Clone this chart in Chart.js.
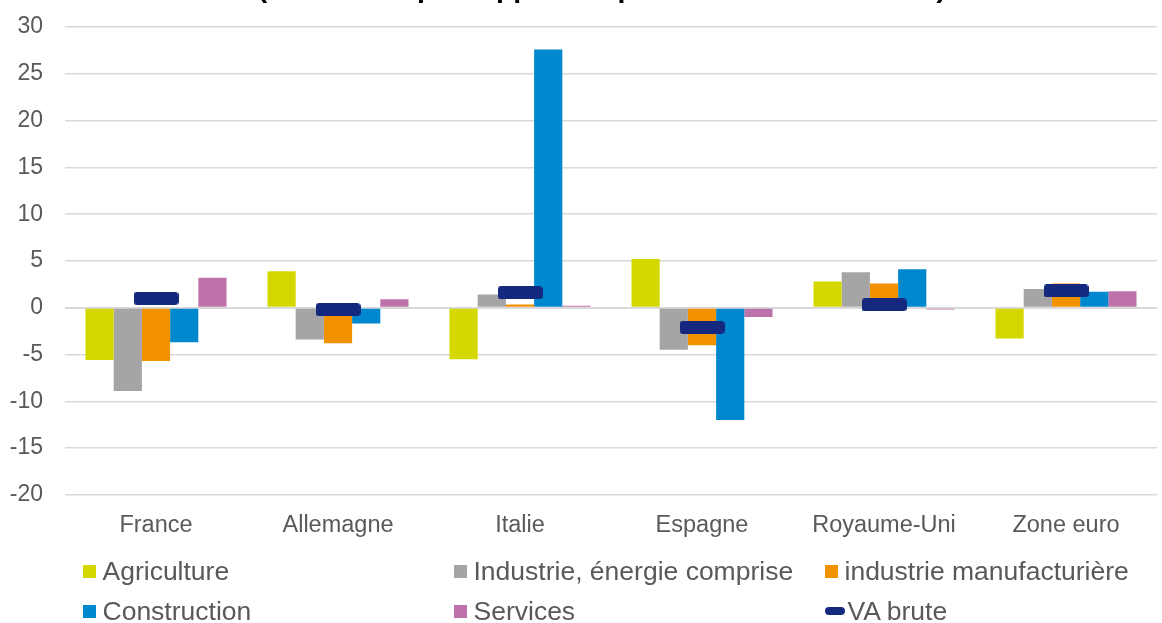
<!DOCTYPE html>
<html lang="fr">
<head>
<meta charset="utf-8">
<title>Valeur ajoutée par branche</title>
<script src="https://cdn.jsdelivr.net/npm/chart.js@4.4.1/dist/chart.umd.min.js"></script>
<style>
    html, body { margin: 0; padding: 0; width: 1162px; height: 623px; overflow: hidden; background: #fff; }
    #wrap { position: absolute; left: 0; top: -28px; width: 1180px; height: 577px; }
    #legend { position: absolute; left: 0; top: 0; width: 1162px; height: 623px; pointer-events: none; }
    .item { position: absolute; height: 40px; display: flex; align-items: center; white-space: nowrap;
            font: 26.5px "Liberation Sans", Arial, sans-serif; color: #595959; }
    .swatch { width: 13px; height: 13px; margin-right: 7px; flex: none; }
    .swatch.line { width: 20px; height: 8px; border-radius: 4px; margin-right: 3px; }
</style>
</head>
<body>
<div id="wrap"><canvas id="vaChart"></canvas></div>
<div id="legend"></div>
<script>
const countries = ['France', 'Allemagne', 'Italie', 'Espagne', 'Royaume-Uni', 'Zone euro'];

const agriculture  = [-5.6,  3.9, -5.5,  5.2,  2.8, -3.3];
const industrie    = [-8.9, -3.4,  1.4, -4.5,  3.8,  2.0];
const manufacture  = [-5.7, -3.8,  0.35, -4.0, 2.6,  2.6];
const construction = [-3.7, -1.7, 27.6, -12.0, 4.1,  1.7];
const services     = [ 3.2,  0.9,  0.2, -1.0, -0.2,  1.75];
const vaBrute      = [ 1.0, -0.2,  1.6, -2.1,  0.3,  1.8];

const yTicks = [-20, -15, -10, -5, 0, 5, 10, 15, 20, 25, 30];

// only the bottom of the title shows in the original; the wording is a best guess
const titleText = "\u00a0\u00a0\u00a0(écart en % par rapport au point haut d'avant-crise)";

document.addEventListener('DOMContentLoaded', function() {
    const font = "'Liberation Sans', Arial, sans-serif";
    Chart.defaults.font.family = font;
    Chart.defaults.color = '#595959';

    // dash marker for the VA brute series
    const dash = document.createElement('canvas');
    dash.width = 45;
    dash.height = 13;
    const dctx = dash.getContext('2d');
    dctx.fillStyle = '#14287f';
    dctx.beginPath();
    dctx.roundRect(0, 0, 45, 13, 3.5);
    dctx.fill();

    const bar = (label, data, color) => ({
        type: 'bar', label: label, data: data,
        backgroundColor: color, borderWidth: 0,
        categoryPercentage: 0.775, barPercentage: 1, order: 1
    });

    const chart = new Chart(document.getElementById('vaChart').getContext('2d'), {
        data: {
            labels: countries,
            datasets: [
                bar('Agriculture', agriculture, '#d4d800'),
                bar('Industrie, énergie comprise', industrie, '#a5a5a5'),
                bar('industrie manufacturière', manufacture, '#f39200'),
                bar('Construction', construction, '#0088cf'),
                bar('Services', services, '#be72aa'),
                {
                    type: 'line', label: 'VA brute', data: vaBrute,
                    showLine: false, pointStyle: dash, pointRadius: 22,
                    borderColor: '#14287f', backgroundColor: '#14287f', order: 0
                }
            ]
        },
        options: {
            responsive: true,
            maintainAspectRatio: false,
            animation: false,
            layout: { padding: { left: 8, right: 8, top: 0, bottom: 0 } },
            plugins: {
                legend: { display: false },
                tooltip: { enabled: false },
                title: {
                    display: true,
                    text: titleText,
                    color: '#000',
                    font: { size: 28.4, weight: 'bold', family: font },
                    padding: { top: 0, bottom: 21 }
                }
            },
            scales: {
                x: {
                    offset: true,
                    grid: { display: false },
                    border: { display: false },
                    ticks: { font: { size: 23.5 }, color: '#595959', padding: 9, maxRotation: 0 }
                },
                y: {
                    min: yTicks[0],
                    max: yTicks[yTicks.length - 1],
                    afterBuildTicks: function(scale) {
                        scale.ticks = yTicks.map(v => ({ value: v }));
                    },
                    afterFit: function(scale) { scale.width = 57; },
                    border: { display: false },
                    grid: {
                        drawTicks: false,
                        color: '#d9d9d9',
                        lineWidth: ctx => ctx.tick && ctx.tick.value === 0 ? 2 : 1.5
                    },
                    ticks: { font: { size: 23 }, color: '#595959', padding: 22 }
                }
            }
        }
    });

    // legend laid out in a three-column grid, as in the original
    const legend = document.getElementById('legend');
    chart.data.datasets.forEach(function(ds, i) {
        const item = document.createElement('div');
        item.className = 'item';
        item.style.left = (82.5 + (i % 3) * 371) + 'px';
        item.style.top = (551 + Math.floor(i / 3) * 40) + 'px';
        const sw = document.createElement('span');
        sw.className = ds.type === 'line' ? 'swatch line' : 'swatch';
        sw.style.background = ds.backgroundColor;
        item.appendChild(sw);
        item.appendChild(document.createTextNode(ds.label));
        legend.appendChild(item);
    });
});
</script>
</body>
</html>
